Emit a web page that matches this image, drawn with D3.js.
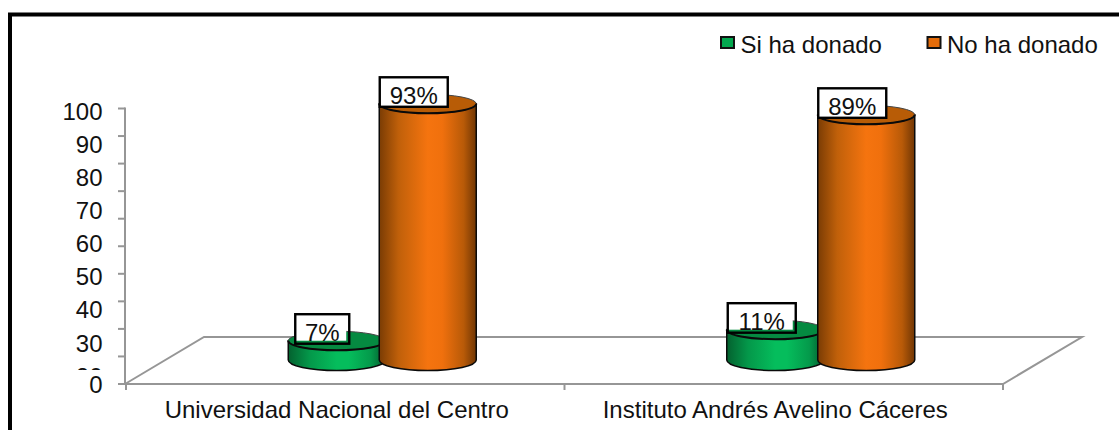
<!DOCTYPE html>
<html><head><meta charset="utf-8">
<script src="https://cdn.jsdelivr.net/npm/d3@7"></script>
<style>html,body{margin:0;padding:0;background:#fff}svg{display:block}text{font-family:"Liberation Sans",Arial,sans-serif;fill:#111}</style>
</head><body><div id="c"></div>
<script>
const categories = ["Universidad Nacional del Centro", "Instituto Andrés Avelino Cáceres"];
const seriesNames = ["Si ha donado", "No ha donado"];
const siHaDonado = [7, 11];
const noHaDonado = [93, 89];
const seriesValues = [siHaDonado, noHaDonado];
const axisTicks = [0,10,20,30,40,50,60,70,80,90,100];
const tickLabels = ["0","20","30","40","50","60","70","80","90","100"];

const W=1119,H=430,FS=24;
const svg=d3.select("#c").append("svg").attr("width",W).attr("height",H);
const defs=svg.append("defs");
function grad(id,stops){
  const g=defs.append("linearGradient").attr("id",id).attr("x1",0).attr("x2",1).attr("y1",0).attr("y2",0);
  stops.forEach(([o,c])=>g.append("stop").attr("offset",o).attr("stop-color",c));
}
grad("g0",[[0,"#04612f"],[.22,"#04984a"],[.5,"#05bd5c"],[.62,"#05bd5c"],[.85,"#049a4b"],[1,"#035a2c"]]);
grad("g1",[[0,"#7a3c04"],[.2,"#c0600a"],[.5,"#f5740f"],[.65,"#f0700d"],[.87,"#b85a08"],[1,"#703604"]]);
const topFill=["#058a41","#b85c06"], swatch=["#03a84f","#e46c0a"];

// frame: runs off the right and bottom of the picture
svg.append("rect").attr("x",10).attr("y",14.5).attr("width",1130).attr("height",430).attr("fill","#fff").attr("stroke","#000").attr("stroke-width",4);

const y=d3.scaleLinear().domain([0,100]).range([384,108.5]);
const x0=d3.scaleBand().domain(categories).range([126,1003]);
const x1=d3.scaleBand().domain(seriesNames).range([-93.5,88.5]);
const depthX=39.5, depthY=24, ry=9.5;
const axisGrey="#969696";

// floor
const fx0=125, fx1=x0.range()[1], dx=79, dy=47;
svg.append("path").attr("d",`M${fx0},${y(0)}L${fx0+dx},${y(0)-dy}L${fx1+dx},${y(0)-dy}L${fx1},${y(0)}Z`).attr("fill","#fff").attr("stroke",axisGrey).attr("stroke-width",2);

// y axis
const gy=svg.append("g").attr("stroke",axisGrey).attr("stroke-width",2);
gy.append("line").attr("x1",125).attr("x2",125).attr("y1",y(100)-1).attr("y2",y(0)+1);
gy.selectAll(".t").data(axisTicks).join("line").attr("x1",118).attr("x2",125).attr("y1",d=>y(d)).attr("y2",d=>y(d));
// x ticks
svg.append("g").attr("stroke",axisGrey).attr("stroke-width",2).selectAll("line").data([...categories.map(c=>x0(c)),x0.range()[1]]).join("line")
 .attr("x1",d=>d).attr("x2",d=>d).attr("y1",y(0)).attr("y2",y(0)+6);

// y labels (spaced on their own, as in the source; "20" is cut off by the "0")
const labY=d3.scaleLinear().domain([30,100]).range([343,111]);
defs.append("clipPath").attr("id","clip20").append("rect").attr("x",60).attr("y",360).attr("width",60).attr("height",10);
svg.append("g").selectAll("text").data(tickLabels).join("text")
 .attr("x",102.5).attr("text-anchor","end").attr("font-size",FS)
 .attr("y",d=>(d==="0"?384:labY(+d))+8.5)
 .attr("clip-path",d=>d==="20"?"url(#clip20)":null)
 .text(d=>d);

// category labels
svg.append("g").selectAll("text").data(categories).join("text")
 .attr("x",d=>x0(d)+x0.bandwidth()/2-8.5).attr("y",418).attr("text-anchor","middle").attr("font-size",FS).text(d=>d);

// cylinders
const rx=48.5;
const baseY=y(0)-depthY;
const centre=(c,s)=>x0(c)+x0.bandwidth()/2+depthX+x1(s)+x1.bandwidth()/2;
seriesNames.forEach((s,si)=>{
  categories.forEach((c,ci)=>{
    const v=seriesValues[si][ci];
    const cx=centre(c,s);
    const ty=baseY-(y(0)-y(v));
    const g=svg.append("g").attr("stroke","#0a0a0a");
    g.append("path").attr("fill",`url(#g${si})`).attr("stroke-width",1.5)
      .attr("d",`M${cx-rx},${ty}L${cx-rx},${baseY}A${rx},${ry+1} 0 0 0 ${cx+rx},${baseY}L${cx+rx},${ty}Z`);
    g.append("ellipse").attr("cx",cx).attr("cy",ty).attr("rx",rx).attr("ry",ry).attr("fill",topFill[si]).attr("stroke","#444").attr("stroke-width",1);
    g.append("path").attr("fill","none").attr("stroke-width",2)
      .attr("d",`M${cx-rx},${ty}A${rx},${ry} 0 0 0 ${cx+rx},${ty}`);
  });
});

// value labels
seriesNames.forEach((s,si)=>{
  categories.forEach((c,ci)=>{
    const v=seriesValues[si][ci], t=v+"%";
    const cx=centre(c,s);
    const ty=baseY-(y(0)-y(v));
    const w=v<10?54:68, h=29.5;
    const lx=cx-rx+(si?0.5:(v<10?7:1));
    const ly=ty-26.5;
    // the white of the box stops a little short for the green series
    const inset=si?0:3;
    svg.append("rect").attr("x",lx).attr("y",ly).attr("width",w-inset).attr("height",h-inset).attr("fill","#fff");
    svg.append("rect").attr("x",lx).attr("y",ly).attr("width",w).attr("height",h).attr("fill","none").attr("stroke","#000").attr("stroke-width",2.4);
    svg.append("text").attr("x",lx+w/2).attr("y",ly+27).attr("text-anchor","middle").attr("font-size",FS).text(t);
  });
});

// legend
const lgX=[720,926.5];
seriesNames.forEach((s,i)=>{
  svg.append("rect").attr("x",lgX[i]+1).attr("y",37).attr("width",13).attr("height",11).attr("fill",swatch[i]).attr("stroke","#111").attr("stroke-width",2);
  svg.append("text").attr("x",lgX[i]+20.5).attr("y",53).attr("font-size",FS).text(s);
});
</script></body></html>
